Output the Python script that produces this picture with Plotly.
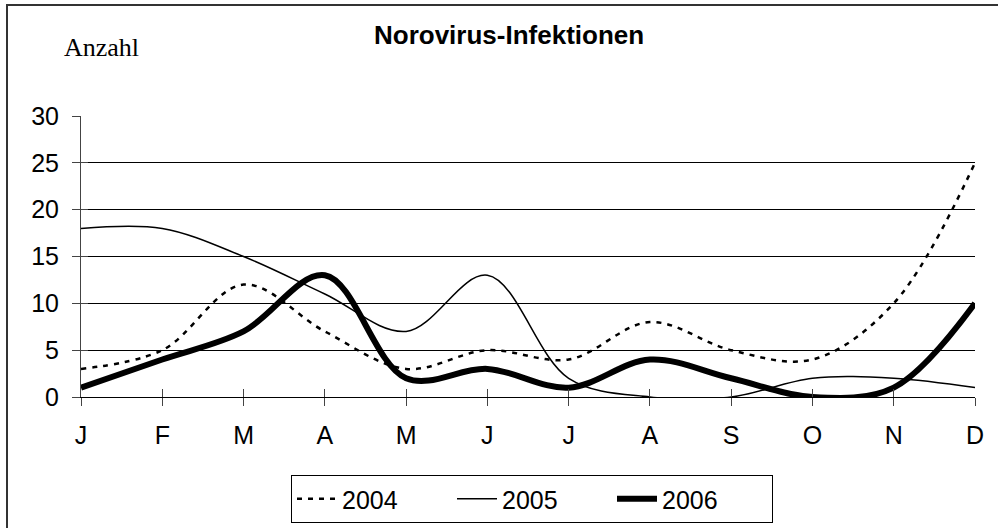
import plotly.graph_objects as go

months = ["J", "F", "M", "A", "M", "J", "J", "A", "S", "O", "N", "D"]
month_idx = list(range(len(months)))
y2004 = [3, 5, 12, 7, 3, 5, 4, 8, 5, 4, 10, 25]
y2005 = [18, 18, 15, 11, 7, 13, 2, 0, 0, 2, 2, 1]
y2006 = [1, 4, 7, 13, 2, 3, 1, 4, 2, 0, 1, 10]
y_ticks = [0, 5, 10, 15, 20, 25, 30]

W, H = 998, 528
L, R, T, B = 81, 23, 116, 131
PW, PH = W - L - R, H - T - B

def px_x(px):
    return (px - L) / PW

def px_y(py):
    return (H - B - py) / PH

FONT = "Liberation Sans, Arial, sans-serif"

fig = go.Figure()
fig.add_trace(go.Scatter(x=month_idx, y=y2004, name="2004", mode="lines",
                         line=dict(color="black", width=2.5, dash="5px,6px", shape="spline", smoothing=1)))
fig.add_trace(go.Scatter(x=month_idx, y=y2005, name="2005", mode="lines",
                         line=dict(color="black", width=1.5, shape="spline", smoothing=1)))
fig.add_trace(go.Scatter(x=month_idx, y=y2006, name="2006", mode="lines",
                         line=dict(color="black", width=6, shape="spline", smoothing=1)))
# empty helper trace so the overlay axes (inner half of the crossing ticks) get drawn
fig.add_trace(go.Scatter(x=[None], y=[None], xaxis="x2", yaxis="y2", mode="lines",
                         showlegend=False, hoverinfo="skip"))

fig.update_layout(
    width=W, height=H,
    margin=dict(l=L, r=R, t=T, b=B, pad=0, autoexpand=False),
    paper_bgcolor="white", plot_bgcolor="white",
    font=dict(family=FONT, size=25, color="black"),
    showlegend=True,
    legend=dict(orientation="h", x=px_x(532), y=px_y(499), xanchor="center", yanchor="middle",
                bordercolor="black", borderwidth=1, font=dict(size=25, family=FONT),
                entrywidth=105, itemwidth=40, tracegroupgap=0),
    xaxis=dict(range=[0, 11], tickmode="array", tickvals=month_idx, ticktext=months,
               showgrid=False, zeroline=False, showline=True, linecolor="black", linewidth=1,
               ticks="outside", ticklen=8, tickcolor="#444", tickwidth=1, ticklabelstandoff=8,
               tickfont=dict(size=25, family=FONT), fixedrange=True, automargin=False),
    yaxis=dict(range=[0, 30], tickmode="array", tickvals=y_ticks,
               showgrid=True, gridcolor="black", gridwidth=1, zeroline=False,
               showline=True, linecolor="#444", linewidth=1,
               ticks="outside", ticklen=8, tickcolor="#444", tickwidth=1, ticklabelstandoff=8,
               tickfont=dict(size=25, family=FONT), fixedrange=True, automargin=False),
    xaxis2=dict(overlaying="x", anchor="y", range=[0, 11], tickmode="array", tickvals=month_idx,
                showticklabels=False, showgrid=False, zeroline=False, showline=False,
                ticks="inside", ticklen=8, tickcolor="#444", tickwidth=1, side="bottom",
                fixedrange=True, automargin=False),
    yaxis2=dict(overlaying="y", anchor="x", range=[0, 30], tickmode="array", tickvals=y_ticks,
                showticklabels=False, showgrid=False, zeroline=False, showline=False,
                ticks="inside", ticklen=7, tickcolor="#444", tickwidth=1, side="left",
                fixedrange=True, automargin=False),
    annotations=[
        dict(text="<b>Norovirus-Infektionen</b>", xref="paper", yref="paper",
             x=px_x(509), y=px_y(35), xanchor="center", yanchor="middle", showarrow=False,
             font=dict(family=FONT, size=26, color="black")),
        dict(text="Anzahl", xref="paper", yref="paper",
             x=px_x(62), y=px_y(47), xanchor="left", yanchor="middle", showarrow=False,
             font=dict(family="Liberation Serif, Times New Roman, serif", size=26, color="black")),
    ],
    shapes=[
        dict(type="rect", xref="paper", yref="paper",
             x0=px_x(7), x1=px_x(1010), y0=px_y(540), y1=px_y(5),
             line=dict(color="#333", width=2), fillcolor="rgba(0,0,0,0)", layer="above"),
    ],
)

fig.write_html("out.html", config={"displayModeBar": False},
               post_script="document.body.style.margin='0px';document.body.style.overflow='hidden';")
